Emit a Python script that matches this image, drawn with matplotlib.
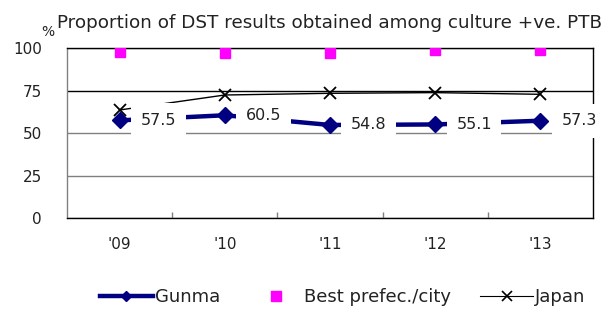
import matplotlib
matplotlib.use("Agg")
import matplotlib.pyplot as plt
from matplotlib.lines import Line2D
from matplotlib.ticker import FixedLocator

# data
aryYears = ["'09", "'10", "'11", "'12", "'13"]
aryGunma = [57.5, 60.5, 54.8, 55.1, 57.3]
aryBest = [97.8, 97.2, 97.0, 99.1, 98.8]
aryJapan = [63.6, 72.4, 73.4, 73.8, 72.8]
aryYTicks = [0, 25, 50, 75, 100]
strTitle = "Proportion of DST results obtained among culture +ve. PTB"

plt.rcParams['font.family'] = ['DejaVu Sans']

W, H = 611, 309
fig = plt.figure(figsize=(W / 100, H / 100), dpi=100)
ax = fig.add_axes([67 / W, (H - 218.3) / H, (593 - 67) / W, (218.3 - 48) / H])

xs = list(range(len(aryYears)))

# japan first so the gunma line sits over it
ax.plot(xs, aryJapan, color="black", lw=1.0, marker="x", markersize=8.5,
        markeredgewidth=1.3, zorder=3)
ax.plot(xs, aryBest, linestyle="none", marker="s", markersize=7,
        color="#ff00ff", zorder=3)
ax.plot(xs, aryGunma, color="#000080", lw=3.2, marker="D", markersize=8.5,
        zorder=4)

# value labels with a white box that hides lines behind them
for x, v in zip(xs, aryGunma):
  ax.annotate("%.1f" % v, (x, v), xytext=(28, 0), textcoords="offset points",
              ha="center", va="center", fontsize=11.5, color="#222222",
              bbox=dict(boxstyle="square,pad=0.6", fc="white", ec="none"),
              zorder=6, annotation_clip=False)

ax.set_xlim(-0.5, len(aryYears) - 0.5)
ax.set_ylim(0, 100)
ax.set_xticks(xs)
ax.set_xticklabels(aryYears)
ax.xaxis.set_minor_locator(FixedLocator([i + 0.5 for i in xs[:-1]]))
ax.tick_params(axis="x", which="major", length=0, pad=13.5, labelsize=11, labelcolor="#222222")
ax.tick_params(axis="x", which="minor", direction="in", length=4, width=1, color="#808080")
ax.set_yticks(aryYTicks)
ax.tick_params(axis="y", length=0, pad=18, labelsize=11, labelcolor="#222222")

# horizontal gridlines: 75 is black, the others grey
ax.yaxis.grid(True, lw=1.0, zorder=1)
ax.set_axisbelow(True)
for val, gl in zip(aryYTicks, ax.get_ygridlines()):
  gl.set_color("black" if val == 75 else "#808080")

ax.spines["left"].set_color("#808080")
for s in ["top", "right", "bottom"]:
  ax.spines[s].set_color("black")
for s in ax.spines.values():
  s.set_linewidth(1.0)

fig.text(57 / W, 1 - 23 / H, strTitle, ha="left", va="center", fontsize=13.2, color="#222222")
fig.text(41 / W, 1 - 32 / H, "%", ha="left", va="center", fontsize=10, color="#222222")

aryHandles = [
  Line2D([], [], color="#000080", lw=3.2, marker="D", markersize=5),
  Line2D([], [], linestyle="none", color="#ff00ff", marker="s", markersize=7),
  Line2D([], [], color="black", lw=0.8, marker="x", markersize=7, markeredgewidth=1.2),
]
fig.legend(aryHandles, ["Gunma", "Best prefec./city", "Japan"], loc="center",
           bbox_to_anchor=(343 / W, (H - 297) / H), ncol=3, frameon=False,
           fontsize=13, handlelength=2.9, handletextpad=0.15, columnspacing=1.6,
           labelcolor="#222222")

fig.savefig("out.png", dpi=100)
